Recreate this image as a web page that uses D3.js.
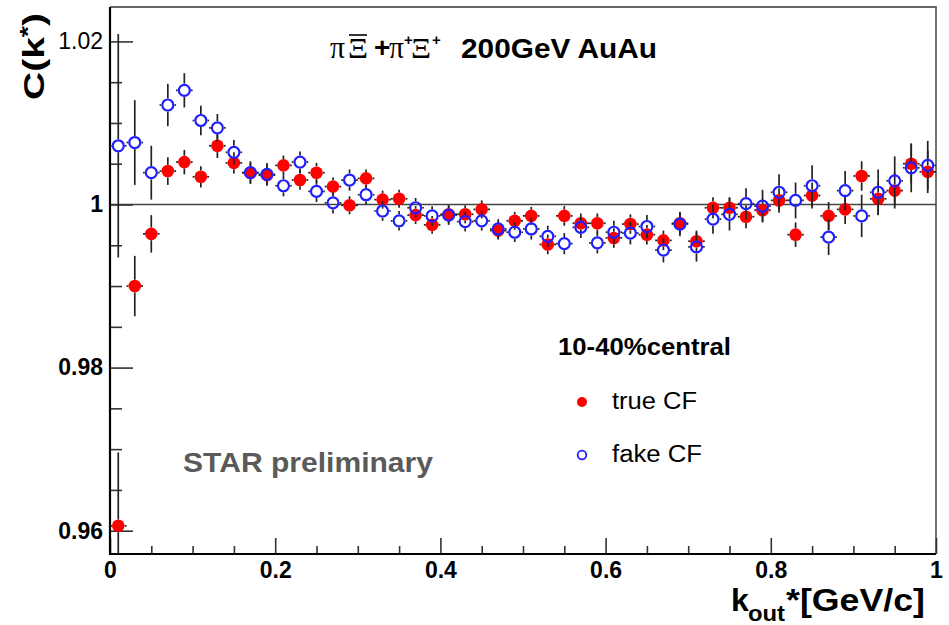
<!DOCTYPE html>
<html>
<head>
<meta charset="utf-8">
<script src="https://cdn.jsdelivr.net/npm/d3@7/dist/d3.min.js"></script>
<style>
  html, body { margin: 0; padding: 0; background: #fff; }
  svg { display: block; }
  text { font-family: "Liberation Sans", Arial, Helvetica, sans-serif; }
</style>
</head>
<body>
<svg id="chart" width="949" height="625"></svg>
<script>
// bin centres of k_out* [GeV/c]
const kBins = [0.01,0.03,0.05,0.07,0.09,0.11,0.13,0.15,0.17,0.19,
               0.21,0.23,0.25,0.27,0.29,0.31,0.33,0.35,0.37,0.39,
               0.41,0.43,0.45,0.47,0.49,0.51,0.53,0.55,0.57,0.59,
               0.61,0.63,0.65,0.67,0.69,0.71,0.73,0.75,0.77,0.79,
               0.81,0.83,0.85,0.87,0.89,0.91,0.93,0.95,0.97,0.99];

// true correlation function
const trueCF = [0.9606,0.9900,0.9964,1.0041,1.0052,1.0034,1.0072,1.0051,1.0039,1.0036,
                1.0048,1.0030,1.0039,1.0022,0.9999,1.0032,1.0006,1.0007,0.9987,0.9975,
                0.9988,0.9988,0.9994,0.9968,0.9980,0.9986,0.9951,0.9986,0.9977,0.9977,
                0.9959,0.9976,0.9963,0.9956,0.9977,0.9955,0.9996,0.9996,0.9985,0.9993,
                1.0005,0.9963,1.0011,0.9986,0.9994,1.0035,1.0007,1.0017,1.0050,1.0040];
const trueErr = [0.0090,0.0037,0.0023,0.0017,0.0015,0.0013,0.0015,0.0013,0.0012,0.0012,
                 0.0012,0.0012,0.0012,0.0011,0.0011,0.0011,0.0011,0.0011,0.0011,0.0011,
                 0.0011,0.0011,0.0011,0.0011,0.0011,0.0011,0.0012,0.0012,0.0012,0.0012,
                 0.0012,0.0012,0.0012,0.0012,0.0013,0.0013,0.0013,0.0013,0.0014,0.0014,
                 0.0015,0.0015,0.0016,0.0017,0.0018,0.0018,0.0020,0.0022,0.0024,0.0026];

// fake correlation function
const fakeCF = [1.0072,1.0076,1.0039,1.0122,1.0140,1.0103,1.0094,1.0064,1.0039,1.0037,
                1.0023,1.0052,1.0016,1.0002,1.0030,1.0012,0.9992,0.9980,0.9996,0.9986,
                0.9987,0.9979,0.9980,0.9970,0.9966,0.9970,0.9961,0.9952,0.9972,0.9953,
                0.9966,0.9965,0.9973,0.9944,0.9976,0.9948,0.9982,0.9988,1.0001,0.9998,
                1.0015,1.0005,1.0023,0.9960,1.0017,0.9986,1.0015,1.0029,1.0045,1.0048];
const fakeErr = [0.0137,0.0052,0.0033,0.0026,0.0021,0.0018,0.0017,0.0015,0.0014,0.0014,
                 0.0013,0.0013,0.0013,0.0013,0.0013,0.0012,0.0012,0.0012,0.0012,0.0012,
                 0.0012,0.0012,0.0012,0.0012,0.0012,0.0013,0.0013,0.0013,0.0013,0.0013,
                 0.0014,0.0014,0.0014,0.0015,0.0015,0.0018,0.0018,0.0020,0.0019,0.0020,
                 0.0022,0.0022,0.0025,0.0022,0.0024,0.0026,0.0028,0.0030,0.0030,0.0030];

const binHalfWidth = 0.01;

const xMajorTicks = [0, 0.2, 0.4, 0.6, 0.8, 1];
const xTickLabels = ["0", "0.2", "0.4", "0.6", "0.8", "1"];
const xMinorTicks = [0.05,0.1,0.15,0.25,0.3,0.35,0.45,0.5,0.55,0.65,0.7,0.75,0.85,0.9,0.95];
const yMajorTicks = [0.96, 0.98, 1, 1.02];
const yTickLabels = ["0.96", "0.98", "1", "1.02"];
const yMinorTicks = [0.965,0.97,0.975,0.985,0.99,0.995,1.005,1.01,1.015];

const svg = d3.select("#chart");
const L = 110, R = 936, T = 7, B = 554;

const x = d3.scaleLinear().domain([0, 1]).range([L, R]);
const y = d3.scaleLinear().domain([0.95714, 1.02422]).range([B, T]);

svg.append("rect").attr("width", 949).attr("height", 625).attr("fill", "#fff");

svg.append("defs").append("clipPath").attr("id", "plotClip")
  .append("rect").attr("x", L).attr("y", T).attr("width", R - L).attr("height", B - T);

// frame (top / right)
svg.append("path")
  .attr("d", `M${L},${T}H${R}V${B}`)
  .attr("fill", "none").attr("stroke", "#666").attr("stroke-width", 1.8);

// reference line at C = 1
svg.append("line")
  .attr("x1", x(0)).attr("x2", x(1)).attr("y1", y(1)).attr("y2", y(1))
  .attr("stroke", "#444").attr("stroke-width", 1.6);

// axes (ticks drawn inward)
function styleAxis(g) {
  g.select(".domain").remove();
  g.selectAll(".tick line").attr("stroke", "#333").attr("stroke-width", 1.6);
}

const yMajor = svg.append("g").attr("transform", `translate(${L},0)`)
  .call(d3.axisLeft(y).tickValues(yMajorTicks).tickSize(-23).tickPadding(7)
        .tickFormat((d, i) => yTickLabels[i]));
styleAxis(yMajor);
yMajor.selectAll(".tick text")
  .style("font-size", "23px")
  .style("font-weight", (d) => d === 1.02 ? "normal" : "bold")
  .style("fill", "#000");

const yMinor = svg.append("g").attr("transform", `translate(${L},0)`)
  .call(d3.axisLeft(y).tickValues(yMinorTicks).tickSize(-12).tickFormat(""));
styleAxis(yMinor);

const xMajor = svg.append("g").attr("transform", `translate(0,${B})`)
  .call(d3.axisBottom(x).tickValues(xMajorTicks).tickSize(-16).tickPadding(8)
        .tickFormat((d, i) => xTickLabels[i]));
styleAxis(xMajor);
xMajor.selectAll(".tick text")
  .style("font-size", "23px").style("font-weight", "bold").style("fill", "#000");

const xMinor = svg.append("g").attr("transform", `translate(0,${B})`)
  .call(d3.axisBottom(x).tickValues(xMinorTicks).tickSize(-8).tickFormat(""));
styleAxis(xMinor);

// axis lines
svg.append("path").attr("d", `M${L},${T}V${B}H${R}`)
  .attr("fill", "none").attr("stroke", "#000").attr("stroke-width", 2.2);

// data series
function drawSeries(vals, errs, markerR, drawMarker) {
  const g = svg.append("g").attr("clip-path", "url(#plotClip)");
  const pts = kBins.map((k, i) => ({ k, v: vals[i], e: errs[i] }));
  const segs = [];
  pts.forEach((p) => {
    const cx = x(p.k), cy = y(p.v);
    const yTop = y(p.v + p.e), yBot = y(p.v - p.e);
    const xL = x(p.k - binHalfWidth), xR = x(p.k + binHalfWidth);
    if (cy - yTop > markerR) segs.push([cx, yTop, cx, cy - markerR]);
    if (yBot - cy > markerR) segs.push([cx, cy + markerR, cx, yBot]);
    if (cx - xL > markerR) segs.push([xL, cy, cx - markerR, cy]);
    if (xR - cx > markerR) segs.push([cx + markerR, cy, xR, cy]);
  });
  g.selectAll("line.err").data(segs).join("line").attr("class", "err")
    .attr("x1", (d) => d[0]).attr("y1", (d) => d[1])
    .attr("x2", (d) => d[2]).attr("y2", (d) => d[3])
    .attr("stroke", "#222").attr("stroke-width", 1.7);
  drawMarker(g.selectAll("circle.pt").data(pts).join("circle").attr("class", "pt")
    .attr("cx", (d) => x(d.k)).attr("cy", (d) => y(d.v)));
}

drawSeries(trueCF, trueErr, 6.3, (sel) => sel.attr("r", 6.3).attr("fill", "#ff0000"));
drawSeries(fakeCF, fakeErr, 6.6, (sel) => sel.attr("r", 5.5).attr("fill", "none")
  .attr("stroke", "#1f1fff").attr("stroke-width", 2.2));

// title
const titleY = 58;
const serif = "Liberation Serif, Times New Roman, serif";
const sans = "Liberation Sans, Arial, sans-serif";
function titlePart(px, py, size, txt, family, weight, len) {
  const t = svg.append("text").attr("x", px).attr("y", py)
    .style("font-family", family).style("font-size", size + "px")
    .style("font-weight", weight).text(txt);
  if (len) t.attr("textLength", len).attr("lengthAdjust", "spacingAndGlyphs");
  return t;
}
titlePart(330, titleY, 32, "π", serif, "normal", 15);
titlePart(348, titleY, 30, "Ξ", serif, "normal", 20);
svg.append("line").attr("x1", 349).attr("x2", 367).attr("y1", 35).attr("y2", 35)
  .attr("stroke", "#000").attr("stroke-width", 1.6);
titlePart(374, titleY - 1, 28, "+", sans, "bold");
titlePart(389, titleY, 32, "π", serif, "normal", 15);
titlePart(404, 45, 15, "+", sans, "bold");
titlePart(411, titleY, 30, "Ξ", serif, "normal", 20);
titlePart(432, 45, 15, "+", sans, "bold");
svg.append("text").attr("x", 461).attr("y", titleY).attr("font-size", 28)
  .attr("font-weight", "bold").attr("textLength", 196).attr("lengthAdjust", "spacingAndGlyphs")
  .text("200GeV AuAu");

// y-axis title
const yTitle = svg.append("text").attr("transform", "translate(44,100) rotate(-90)")
  .attr("font-size", 30).attr("font-weight", "bold")
  .attr("textLength", 87).attr("lengthAdjust", "spacingAndGlyphs");
yTitle.append("tspan").text("C(k");
yTitle.append("tspan").attr("font-size", 22).attr("dy", -9).text("*");
yTitle.append("tspan").attr("dy", 9).text(")");

// x-axis title
svg.append("text").attr("x", 731).attr("y", 611).attr("font-size", 32)
  .attr("font-weight", "bold").text("k");
svg.append("text").attr("x", 748).attr("y", 621).attr("font-size", 22)
  .attr("font-weight", "bold").attr("textLength", 37).attr("lengthAdjust", "spacingAndGlyphs")
  .text("out");
svg.append("text").attr("x", 786).attr("y", 611).attr("font-size", 32)
  .attr("font-weight", "bold").attr("textLength", 139).attr("lengthAdjust", "spacingAndGlyphs")
  .text("*[GeV/c]");

// annotation
svg.append("text").attr("x", 183).attr("y", 472).attr("font-size", 28)
  .attr("font-weight", "bold").attr("fill", "#5a5a5a")
  .attr("textLength", 250).attr("lengthAdjust", "spacingAndGlyphs")
  .text("STAR preliminary");

// legend
svg.append("text").attr("x", 558).attr("y", 355).attr("font-size", 24)
  .attr("font-weight", "bold").attr("textLength", 173).attr("lengthAdjust", "spacingAndGlyphs")
  .text("10-40%central");
svg.append("circle").attr("cx", 582).attr("cy", 402).attr("r", 5).attr("fill", "#ff0000");
svg.append("text").attr("x", 612).attr("y", 409).attr("font-size", 23)
  .attr("textLength", 85).attr("lengthAdjust", "spacingAndGlyphs").text("true CF");
svg.append("circle").attr("cx", 582).attr("cy", 455).attr("r", 4.3).attr("fill", "none")
  .attr("stroke", "#1f1fff").attr("stroke-width", 1.8);
svg.append("text").attr("x", 612).attr("y", 462).attr("font-size", 23)
  .attr("textLength", 90).attr("lengthAdjust", "spacingAndGlyphs").text("fake CF");
</script>
</body>
</html>
